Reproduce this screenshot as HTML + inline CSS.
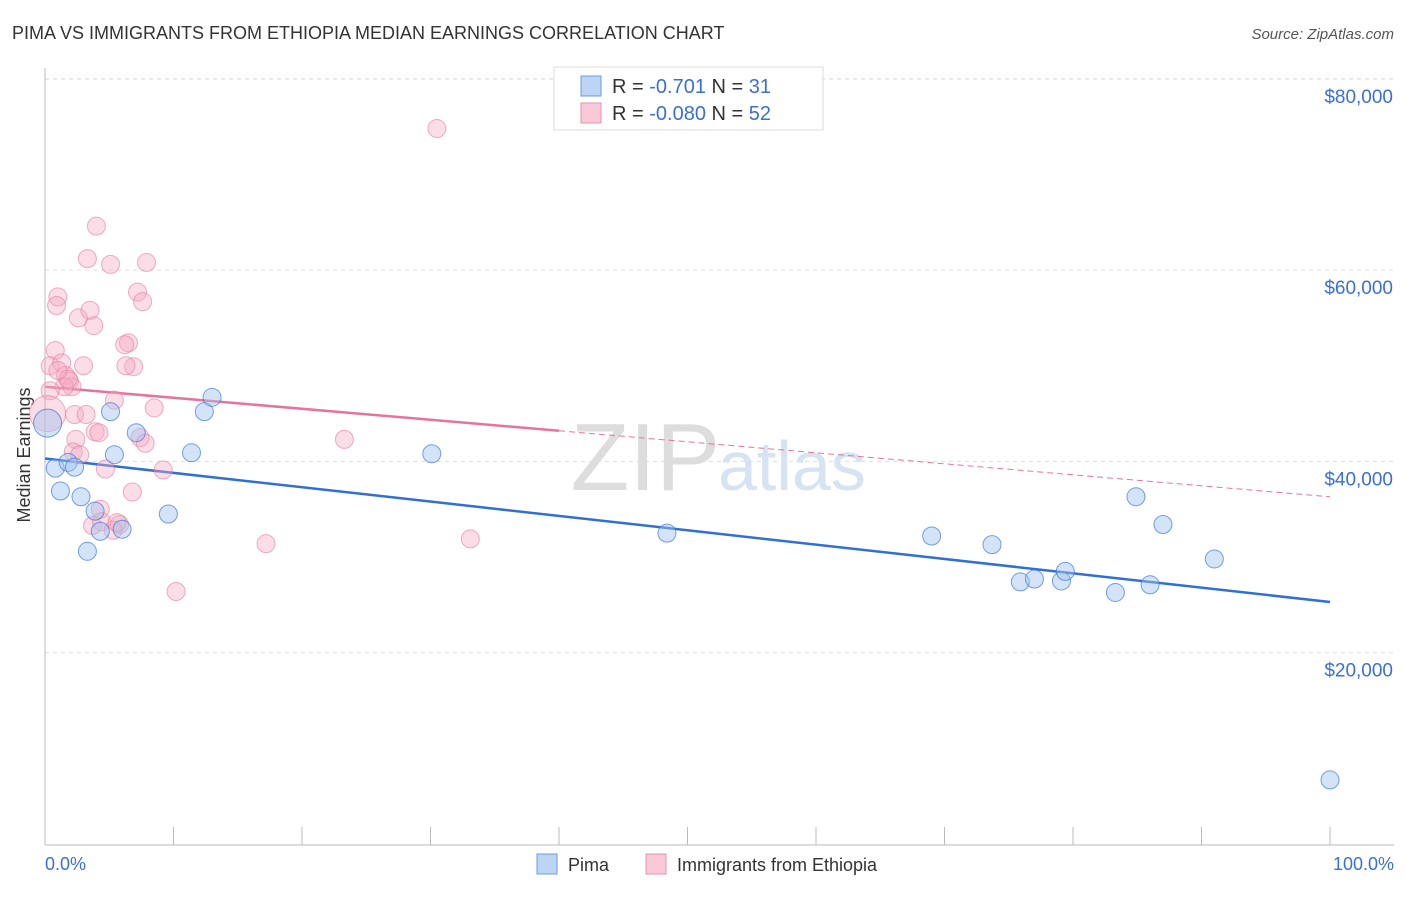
<!DOCTYPE html>
<html><head><meta charset="utf-8"><style>
body{margin:0;background:#fff;font-family:"Liberation Sans",sans-serif;}
svg text{font-family:"Liberation Sans",sans-serif;}
</style></head><body>
<svg width="1406" height="892" xmlns="http://www.w3.org/2000/svg">
<text x="12" y="39" font-size="18" fill="#333">PIMA VS IMMIGRANTS FROM ETHIOPIA MEDIAN EARNINGS CORRELATION CHART</text>
<text x="1394" y="39" font-size="15" fill="#555" text-anchor="end" font-style="italic">Source: ZipAtlas.com</text>
<g id="grid"></g>
<line x1="45" y1="68" x2="45" y2="845" stroke="#bbb"/>
<line x1="45" y1="845" x2="1394" y2="845" stroke="#bbb"/>
<text x="30" y="455" font-size="18" fill="#333" transform="rotate(-90 30 455)" text-anchor="middle">Median Earnings</text>
<text x="720" y="490" font-size="96" fill="#ddd" text-anchor="end" font-family="Liberation Serif">ZIP</text>
<text x="718" y="490" font-size="70" fill="#d6e3f3">atlas</text>
<g id="ticks"></g>
<g id="trend"></g>
<g id="pts"></g>
<text x="45" y="870" font-size="18" fill="#3a6fd8">0.0%</text>
<text x="1394" y="870" font-size="18" fill="#3a6fd8" text-anchor="end">100.0%</text>
<g>
<rect x="554" y="67" width="269" height="63" fill="#fff" stroke="#ddd"/>
<rect x="581" y="76" width="20" height="20" fill="#bcd5f5" stroke="#6a9be0"/>
<rect x="581" y="103" width="20" height="20" fill="#f9c9d7" stroke="#ec8fab"/>
<text x="612" y="93" font-size="20" fill="#333">R = <tspan fill="#3a6fd8">-0.701</tspan>   N = <tspan fill="#3a6fd8"> 31</tspan></text>
<text x="612" y="120" font-size="20" fill="#333">R = <tspan fill="#3a6fd8">-0.080</tspan>   N = <tspan fill="#3a6fd8">52</tspan></text>
</g>
<g>
<rect x="537" y="854" width="20" height="20" fill="#bcd5f5" stroke="#6a9be0"/>
<text x="568" y="871" font-size="18" fill="#333">Pima</text>
<rect x="646" y="854" width="20" height="20" fill="#f9c9d7" stroke="#ec8fab"/>
<text x="677" y="871" font-size="18" fill="#333">Immigrants from Ethiopia</text>
</g>
</svg>
<script>
const yTicks=[20000,40000,60000,80000];
const yTickLabels=["$20,000","$40,000","$60,000","$80,000"];
const pimaX=[0.2,0.8,1.2,1.8,2.3,2.8,3.3,3.9,4.3,5.1,5.4,6.0,7.1,9.6,11.4,12.4,13.0,30.1,48.4,69.0,73.7,75.9,77.0,79.1,79.4,83.3,84.9,86.0,87.0,91.0,100.0];
const pimaY=[44000,39300,36900,39900,39400,36300,30600,34800,32700,45200,40700,32900,43000,34500,40900,45200,46700,40800,32500,32200,31300,27400,27700,27500,28500,26300,36300,27100,33400,29800,6700];
const ethX=[30.5,4.0,3.3,5.1,7.9,1.0,0.9,7.2,7.6,2.6,3.8,3.5,0.8,6.5,6.2,0.4,1.3,3.0,6.9,6.3,1.6,1.9,2.1,1.5,1.8,0.4,5.4,0.2,8.5,2.3,3.2,2.4,3.9,4.2,7.4,7.8,23.3,2.2,2.7,4.7,9.2,6.8,4.3,3.7,4.4,5.8,17.2,33.1,10.2,5.3,5.6,1.0];
const ethY=[74800,64600,61200,60600,60800,57200,56300,57700,56700,55000,54200,55800,51600,52400,52200,50000,50300,50000,49900,50000,49000,48400,47800,47800,48600,47400,46400,45000,45600,44900,44900,42300,43100,43000,42500,41900,42300,41000,40700,39200,39100,36800,35000,33300,33700,33400,31400,31900,26400,32800,33600,49500];
const ethR=Array(52).fill(9); ethR[27]=18;
const pimaR=Array(31).fill(9); pimaR[0]=14;
const pimaTrend=[40300,25300];
const ethTrend=[47800,36300];
const X0=45,X1=1330,Y0=844,PX=191.3/20000;
const sx=v=>X0+(X1-X0)*v/100, sy=v=>Y0-v*PX;
const NS="http://www.w3.org/2000/svg";
function mk(p,t,a){const e=document.createElementNS(NS,t);for(const k in a)e.setAttribute(k,a[k]);document.getElementById(p).appendChild(e);return e;}
yTicks.forEach((t,i)=>{
 const l=mk('grid','line',{x1:45,x2:1394,y1:sy(t),y2:sy(t),stroke:'#ddd','stroke-dasharray':'4,4'});
 
 
 const tx=mk('ticks','text',{x:1393,y:sy(t)+24,'font-size':19,fill:'#3a6fd8','text-anchor':'end'});
 tx.textContent=yTickLabels[i];
 
 
});
mk('grid','line',{x1:45,x2:1394,y1:79,y2:79,stroke:'#ddd','stroke-dasharray':'4,4'});
for(let i=0;i<=10;i++){const x=sx(i*10);const l=mk('ticks','line',{x1:x,x2:x,y1:827,y2:845,stroke:'#bbb'});
 
 }
let t=mk('trend','line',{x1:sx(0),y1:sy(pimaTrend[0]),x2:sx(100),y2:sy(pimaTrend[1]),stroke:'#2f6fd6','stroke-width':2.5});


const em=ethTrend[0]+(ethTrend[1]-ethTrend[0])*0.4;
t=mk('trend','line',{x1:sx(0),y1:sy(ethTrend[0]),x2:sx(40),y2:sy(em),stroke:'#e8739a','stroke-width':2.5});


t=mk('trend','line',{x1:sx(40),y1:sy(em),x2:sx(100),y2:sy(ethTrend[1]),stroke:'#e8739a','stroke-width':1,'stroke-dasharray':'6,4'});


ethX.forEach((x,i)=>{const c=mk('pts','circle',{cx:sx(x),cy:sy(ethY[i]),r:ethR[i],fill:'rgba(246,170,195,0.4)',stroke:'rgba(232,120,155,0.6)','stroke-width':1});
 
 });
pimaX.forEach((x,i)=>{const c=mk('pts','circle',{cx:sx(x),cy:sy(pimaY[i]),r:pimaR[i],fill:'rgba(160,195,240,0.45)',stroke:'rgba(60,120,215,0.7)','stroke-width':1});
 
 });
</script>
</body></html>
